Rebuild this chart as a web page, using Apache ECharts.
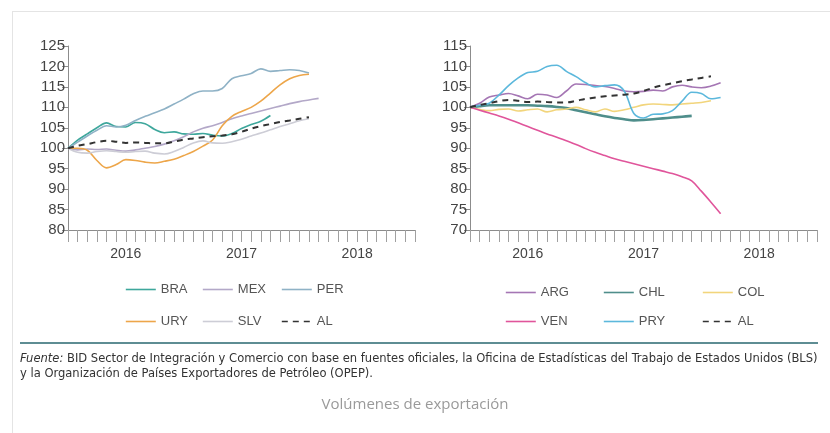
<!DOCTYPE html>
<html><head><meta charset="utf-8">
<script src="https://cdn.jsdelivr.net/npm/echarts@6/dist/echarts.min.js"></script>
<style>html,body{margin:0;padding:0;background:#fff}#c{width:830px;height:433px}</style>
</head><body><div id="c"></div>
<script>
// ---- data (monthly index, Jan 2016 = 0) ----
const yearLabels = ['2016', '2017', '2018'];
const leftNames = ['BRA', 'MEX', 'PER', 'URY', 'SLV', 'AL'];
const rightNames = ['ARG', 'CHL', 'COL', 'VEN', 'PRY', 'AL'];

const BRA = [100, 102, 103.5, 105, 106.2, 105.3, 105.2, 106.3, 106, 104.6, 103.8, 104, 103.5, 103.4, 103.6, 103.2, 103, 103.6, 104.8, 105.8, 106.6, 108];
const MEX = [100, 99.6, 99.8, 99.7, 99.8, 99.5, 99.3, 99.6, 100, 100.4, 101, 101.8, 102.8, 104, 104.9, 105.5, 106.3, 107.2, 107.9, 108.5, 109.1, 109.7, 110.3, 110.9, 111.4, 111.8, 112.2];
const PER = [100, 101.5, 103, 104.4, 105.5, 105.2, 105.6, 106.8, 107.8, 108.7, 109.6, 110.8, 112, 113.3, 114, 114, 114.6, 117, 117.7, 118.3, 119.4, 118.8, 119, 119.2, 119, 118.4];
const URY = [100, 100, 99.5, 97, 95.2, 96, 97.2, 97, 96.6, 96.4, 96.8, 97.3, 98.2, 99.2, 100.5, 102, 105.5, 107.8, 109, 110, 111.5, 113.5, 115.5, 117, 117.8, 118.1];
const SLV = [100, 99, 98.8, 99.2, 99.4, 99.2, 99, 99.2, 99.3, 98.8, 98.6, 99.2, 100.2, 101.3, 101.8, 101.3, 101.2, 101.6, 102.2, 103, 103.7, 104.5, 105.3, 106, 106.7, 107.2];
const AL  = [100, 100.6, 101, 101.5, 101.8, 101.6, 101.3, 101.4, 101.3, 101.2, 101.2, 101.6, 102.1, 102.4, 102.7, 102.9, 103.1, 103.4, 104, 104.8, 105.4, 105.9, 106.4, 106.8, 107.2, 107.6];

const ARG = [100, 101, 102.5, 103, 103.4, 102.8, 102.1, 103.2, 103, 102.4, 104, 105.7, 105.6, 105.3, 105.1, 104.6, 104, 103.8, 103.9, 104.2, 104, 105, 105.4, 105, 104.8, 105.2, 106];
const CHL = [100, 100.3, 100.5, 100.5, 100.5, 100.5, 100.5, 100.4, 100.3, 100.1, 99.8, 99.3, 98.8, 98.3, 97.8, 97.4, 97.1, 96.8, 96.9, 97.1, 97.3, 97.5, 97.7, 97.9];
const COL = [100, 99.5, 99.2, 99.5, 99.6, 99.1, 99.4, 99.6, 98.9, 99.4, 99.6, 100, 99.4, 98.9, 99.6, 99, 99.4, 100, 100.6, 100.8, 100.7, 100.6, 100.8, 101, 101.2, 101.6];
const VEN = [100, 99.3, 98.6, 97.9, 97.1, 96.2, 95.3, 94.4, 93.5, 92.7, 91.8, 90.9, 89.9, 89, 88.2, 87.4, 86.8, 86.2, 85.6, 85, 84.4, 83.8, 83, 82, 79.5, 76.8, 74];
const PRY = [100, 100.5, 101, 103, 105.3, 107.2, 108.5, 108.8, 110, 110.3, 108.8, 107.5, 106, 105, 105.3, 105.5, 104, 98.5, 97.4, 98.3, 98.4, 99.2, 101.5, 103.7, 103.4, 102.1, 102.4];

const note1 = 'Fuente: BID Sector de Integración y Comercio con base en fuentes oficiales, la Oficina de Estadísticas del Trabajo de Estados Unidos (BLS)';
const note2 = 'y la Organización de Países Exportadores de Petróleo (OPEP).';
const caption = 'Volúmenes de exportación';

// ---- styling ----
const FONT = "'Liberation Sans', Arial, sans-serif";
const NOTEFONT = "'Liberation Sans Narrow', 'DejaVu Sans Condensed', 'Liberation Sans', sans-serif";
const colors = {
  BRA: '#3ea79c', MEX: '#b3a8c8', PER: '#8fb2c6', URY: '#eda64a', SLV: '#cdcdd6', AL: '#333333',
  ARG: '#a576b4', CHL: '#4f8e8b', COL: '#f2d57c', VEN: '#e0559b', PRY: '#5cb8dc'
};
const seriesData = { BRA, MEX, PER, URY, SLV, AL, ARG, CHL, COL, VEN, PRY };

function pts(arr) { return arr.map((v, i) => [i, v]); }

function xAxes(g) {
  return [
    { type: 'value', gridIndex: g, position: 'bottom', min: 0, max: 36, interval: 1,
      axisLine: { onZero: false, lineStyle: { color: '#8c8c8c', width: 1 } },
      axisTick: { length: 12, lineStyle: { color: '#a0a0a0' } },
      axisLabel: { show: false }, splitLine: { show: false } },
    { type: 'category', gridIndex: g, position: 'bottom', data: yearLabels, boundaryGap: true,
      axisLine: { show: false },
      axisTick: { interval: 0, length: 24, lineStyle: { color: '#a0a0a0' } },
      axisLabel: { interval: 0, margin: 17, color: '#444', fontSize: 14, fontFamily: FONT },
      splitLine: { show: false } }
  ];
}
function yAxis(g, min, max) {
  return { type: 'value', gridIndex: g, min, max, interval: 5,
    axisLine: { show: true, onZero: false, lineStyle: { color: '#8c8c8c' } },
    axisTick: { show: true, length: 6, lineStyle: { color: '#8c8c8c' } },
    axisLabel: { margin: 3, color: '#444', fontSize: 15, fontFamily: FONT },
    splitLine: { show: false } };
}
function mkSeries(name, g) {
  const isAL = name === 'AL';
  return { type: 'line', name, xAxisIndex: g * 2, yAxisIndex: g, data: pts(seriesData[name]),
    symbol: 'none', smooth: 0.35, z: isAL ? 5 : 3,
    lineStyle: { color: colors[name], width: isAL ? 2 : (name === 'CHL' ? 2.6 : 1.6), type: isAL ? [6, 5] : 'solid' },
    itemStyle: { color: colors[name] } };
}

const legendPos = [
  ['BRA', 125, 283], ['MEX', 202, 283], ['PER', 281, 283],
  ['URY', 125, 315], ['SLV', 202, 315], ['AL', 281, 315],
  ['ARG', 505, 286], ['CHL', 603, 286], ['COL', 702, 286],
  ['VEN', 505, 315], ['PRY', 603, 315], ['AL', 702, 315]
];

// fit footnote width
const ctx = document.createElement('canvas').getContext('2d');
ctx.font = '12px ' + NOTEFONT;
const noteSize = Math.min(13, 12 * 798 / ctx.measureText(note1).width);

const chart = echarts.init(document.getElementById('c'), null, { renderer: 'canvas' });
chart.setOption({
  animation: false,
  backgroundColor: '#fff',
  grid: [
    { left: 68, top: 46, width: 347, height: 184 },
    { left: 470, top: 46, width: 347, height: 184 }
  ],
  xAxis: [...xAxes(0), ...xAxes(1)],
  yAxis: [yAxis(0, 80, 125), yAxis(1, 70, 115)],
  legend: legendPos.map(([n, x, y]) => ({
    data: [n], left: x, top: y, padding: 0, itemWidth: 30, itemHeight: 12, selectedMode: false,
    itemStyle: { opacity: 0, borderWidth: 0 },
    lineStyle: { width: n === 'AL' ? 1.6 : 1.6 },
    textStyle: { fontSize: 13, color: '#555', fontFamily: FONT }
  })),
  series: [
    ...leftNames.map(n => mkSeries(n, 0)),
    ...rightNames.map(n => mkSeries(n, 1))
  ],
  graphic: [
    { type: 'line', silent: true, shape: { x1: 12, y1: 11.5, x2: 830, y2: 11.5 }, style: { stroke: '#e4e4e4', lineWidth: 1 } },
    { type: 'line', silent: true, shape: { x1: 12.5, y1: 11, x2: 12.5, y2: 433 }, style: { stroke: '#e4e4e4', lineWidth: 1 } },
    { type: 'line', silent: true, shape: { x1: 20, y1: 343, x2: 818, y2: 343 }, style: { stroke: '#5e8d93', lineWidth: 2 } },
    { type: 'text', silent: true, left: 20, top: 352, style: {
        text: '{i|Fuente:}' + note1.slice(7), fill: '#333', font: noteSize + 'px ' + NOTEFONT,
        rich: { i: { fontStyle: 'italic', fontSize: noteSize, fontFamily: NOTEFONT, fill: '#333' } } } },
    { type: 'text', silent: true, left: 20, top: 367, style: {
        text: note2, fill: '#333', font: noteSize + 'px ' + NOTEFONT } },
    { type: 'text', silent: true, left: 'center', top: 397, style: {
        text: caption, fill: '#9a9a9a', font: '15px ' + "'Open Sans', 'Liberation Sans', sans-serif" } }
  ]
});
</script>
</body></html>
